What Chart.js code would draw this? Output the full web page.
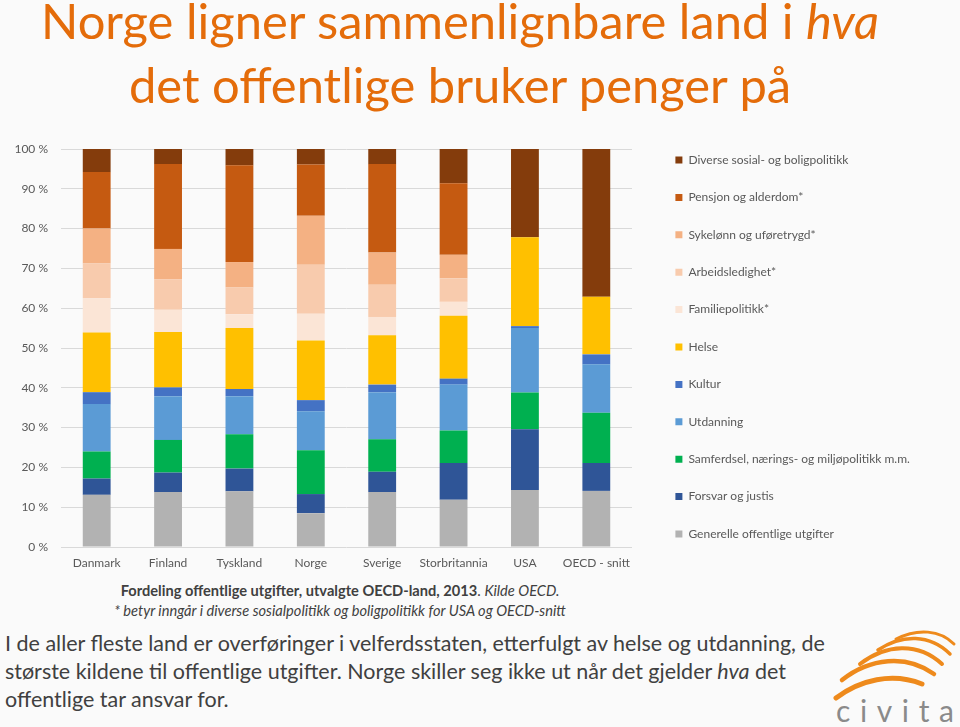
<!DOCTYPE html>
<html lang="no">
<head>
<meta charset="utf-8">
<script src="https://cdn.jsdelivr.net/npm/chart.js@4.4.1/dist/chart.umd.min.js"></script>
<style>
  body { margin: 0; width: 960px; height: 727px; background: #fafafa; position: relative; overflow: hidden; font-family: Lato, "Open Sans", sans-serif; }
  #title { position: absolute; left: 0; top: -12px; width: 920px; text-align: center; color: #e46c0a; font-size: 44px; line-height: 64px; white-space: nowrap; }
  #wrap { position: absolute; left: 0; top: 140px; width: 960px; height: 460px; }
  #caption { position: absolute; left: 0; top: 581px; width: 680px; text-align: center; color: #404040; font-size: 14px; line-height: 20px; white-space: nowrap; }
  #text { position: absolute; left: 5px; top: 630px; color: #404040; font-size: 22px; line-height: 27.8px; white-space: nowrap; }
  #logo { position: absolute; left: 830px; top: 624px; }
  .fit { display: inline-block; }
</style>
</head>
<body>
<div id="title"><span class="fit" id="t1">Norge ligner sammenlignbare land i <i>hva</i></span><br><span class="fit">det offentlige bruker penger på</span></div>
<div id="caption"><b>Fordeling offentlige utgifter, utvalgte OECD-land, 2013</b>. <i>Kilde OECD.</i><br><i><span class="fit" id="c2">* betyr inngår i diverse sosialpolitikk og boligpolitikk for USA og OECD-snitt</span></i></div>
<div id="wrap"><canvas id="spendChart"></canvas></div>
<div id="text"><span class="fit" id="p1">I de aller fleste land er overføringer i velferdsstaten, etterfulgt av helse og utdanning, de</span><br>største kildene til offentlige utgifter. Norge skiller seg ikke ut når det gjelder <i>hva</i> det<br>offentlige tar ansvar for.</div>
<svg id="logo" width="128" height="103" viewBox="0 0 128 103">
  <g fill="none" stroke="#ee8a1c" stroke-linecap="round">
    <path d="M6 74 C 30 56, 62 48, 92 60" stroke-width="5"/>
    <path d="M12 56 C 40 34, 76 30, 104 50" stroke-width="4.5"/>
    <path d="M30 40 C 56 20, 88 18, 112 40" stroke-width="4"/>
    <path d="M48 26 C 72 10, 100 10, 120 30" stroke-width="3.5"/>
    <path d="M66 15 C 88 4, 110 6, 124 20" stroke-width="3"/>
  </g>
  <text x="6" y="98" textLength="118" lengthAdjust="spacing" font-family="Lato, sans-serif" font-size="30" fill="#8a8a8a">civita</text>
</svg>
<script>
document.addEventListener("DOMContentLoaded", function () {
    // fit text widths to the reference
    function fitBlock(blockId, spanId, target) {
        var block = document.getElementById(blockId);
        var span = document.getElementById(spanId);
        var size = parseFloat(getComputedStyle(block).fontSize);
        var w = span.getBoundingClientRect().width;
        block.style.fontSize = (size * target / w).toFixed(2) + "px";
    }
    fitBlock("title", "t1", 838);
    fitBlock("caption", "c2", 452);
    fitBlock("text", "p1", 820);

    var categories = ["Danmark", "Finland", "Tyskland", "Norge", "Sverige", "Storbritannia", "USA", "OECD - snitt"];

    var generelle  = [13.1, 13.8, 14.0,  8.5, 13.8, 11.9, 14.3, 14.1];
    var forsvar    = [ 4.1,  4.9,  5.7,  4.8,  5.1,  9.2, 15.3,  7.0];
    var samferdsel = [ 6.8,  8.2,  8.6, 11.0,  8.2,  8.2,  9.2, 12.6];
    var utdanning  = [11.9, 11.0,  9.6,  9.8, 11.8, 11.5, 16.2, 12.2];
    var kultur     = [ 3.0,  2.2,  1.8,  2.8,  1.9,  1.5,  0.5,  2.5];
    var helse      = [15.0, 13.9, 15.3, 15.0, 12.4, 15.8, 22.3, 14.5];
    var familie    = [ 8.6,  5.6,  3.5,  6.7,  4.6,  3.5,  0,    0  ];
    var arbeid     = [ 8.7,  7.7,  6.7, 12.3,  8.1,  5.9,  0,    0  ];
    var sykelonn   = [ 8.8,  7.6,  6.4, 12.3,  8.1,  5.9,  0,    0  ];
    var pensjon    = [14.2, 21.3, 24.3, 12.9, 22.2, 18.0,  0,    0  ];
    var diverse    = [ 5.8,  3.8,  4.1,  3.9,  3.8,  8.6, 22.2, 37.1];

    var yTicks = [0, 10, 20, 30, 40, 50, 60, 70, 80, 90, 100];

    var series = [
        ["Generelle offentlige utgifter", generelle, "#b2b2b2"],
        ["Forsvar og justis", forsvar, "#2f5597"],
        ["Samferdsel, nærings- og miljøpolitikk m.m.", samferdsel, "#00b050"],
        ["Utdanning", utdanning, "#5b9bd5"],
        ["Kultur", kultur, "#4472c4"],
        ["Helse", helse, "#ffc000"],
        ["Familiepolitikk*", familie, "#fbe5d6"],
        ["Arbeidsledighet*", arbeid, "#f8cbad"],
        ["Sykelønn og uføretrygd*", sykelonn, "#f4b183"],
        ["Pensjon og alderdom*", pensjon, "#c55a11"],
        ["Diverse sosial- og boligpolitikk", diverse, "#843c0c"]
    ];

    // plot box of the reference, in canvas pixels
    var plotTop = 9, plotRight = 632;
    var legendPad = 25.4;

    var legendPlace = {
        id: "legendPlace",
        afterLayout: function (chart) {
            var lg = chart.legend;
            var w = lg.width, h = lg.height;
            lg.left = 650; lg.right = 650 + w;
            lg.top = 14 - legendPad; lg.bottom = lg.top + h;
        }
    };

    var ctx = document.getElementById("spendChart").getContext("2d");
    var chart = new Chart(ctx, {
        type: "bar",
        data: {
            labels: categories,
            datasets: series.map(function (s) {
                return {
                    label: s[0],
                    data: s[1],
                    backgroundColor: s[2],
                    borderWidth: 0,
                    barPercentage: 0.39,
                    categoryPercentage: 1
                };
            })
        },
        options: {
            responsive: true,
            maintainAspectRatio: false,
            animation: false,
            layout: { padding: { top: plotTop, right: 0, bottom: 0, left: 0 } },
            plugins: {
                tooltip: { enabled: false },
                legend: {
                    position: "right",
                    align: "start",
                    reverse: true,
                    maxWidth: 400,
                    labels: {
                        boxWidth: 7,
                        boxHeight: 7,
                        padding: legendPad,
                        color: "#595959",
                        font: { family: "Lato", size: 12 }
                    }
                }
            },
            scales: {
                x: {
                    stacked: true,
                    grid: { display: false },
                    border: { display: false },
                    ticks: { color: "#595959", padding: 1, font: { family: "Lato", size: 12 }, maxRotation: 0, autoSkip: false },
                    afterFit: function (scale) { scale.height = 53; }
                },
                y: {
                    stacked: true,
                    min: 0,
                    max: 100,
                    afterBuildTicks: function (scale) {
                        scale.ticks = yTicks.map(function (v) { return { value: v }; });
                    },
                    grid: { color: "#d9d9d9", drawTicks: true, tickLength: 13, tickColor: "rgba(0,0,0,0)" },
                    border: { display: false },
                    ticks: {
                        color: "#595959",
                        padding: 0,
                        font: { family: "Lato", size: 12 },
                        callback: function (v) { return v + " %"; }
                    },
                    afterFit: function (scale) { scale.width = 61; }
                }
            }
        },
        plugins: [legendPlace]
    });

    // nudge the right padding so the plot ends where the reference plot ends
    chart.options.layout.padding.right = chart.chartArea.right - plotRight;
    chart.update();
});
</script>
</body>
</html>
